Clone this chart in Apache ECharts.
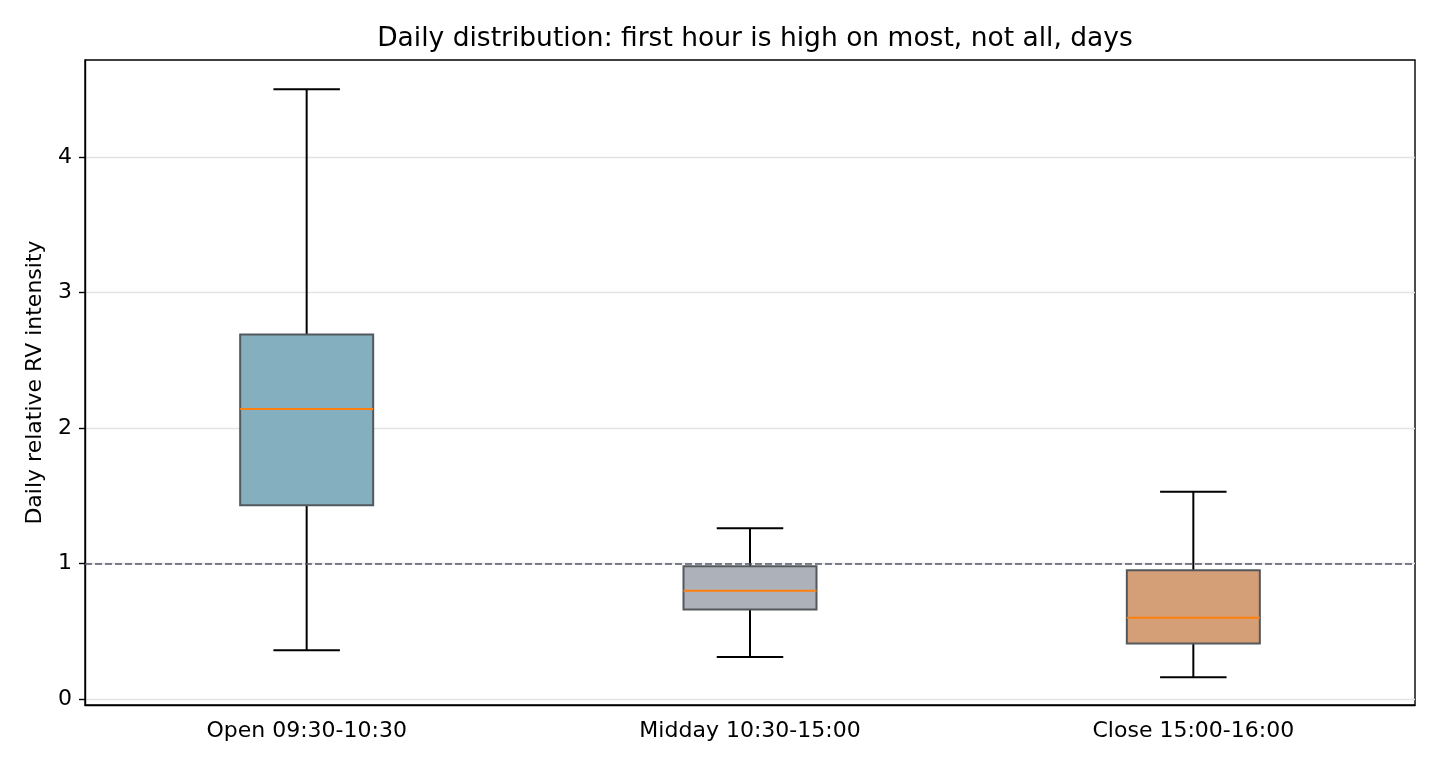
<!DOCTYPE html>
<html>
<head>
<meta charset="utf-8">
<script src="https://cdn.jsdelivr.net/npm/echarts@6/dist/echarts.min.js"></script>
<style>
  html, body { margin: 0; padding: 0; background: #fff; }
  #main { width: 1440px; height: 768px; }
</style>
</head>
<body>
<div id="main"></div>
<script>
// 区间标签
const categories = ['Open 09:30-10:30', 'Midday 10:30-15:00', 'Close 15:00-16:00'];
// 箱线图数值: [下须, Q1, 中位数, Q3, 上须]
const boxStats = [
  [0.36, 1.43, 2.14, 2.69, 4.50],
  [0.31, 0.66, 0.80, 0.98, 1.26],
  [0.16, 0.41, 0.60, 0.95, 1.53]
];
const boxColors = ['#84afbf', '#adb1b9', '#d49e76'];
const yTicks = [0, 1, 2, 3, 4];
const refLine = 1;

const chart = echarts.init(document.getElementById('main'));
const font = 'DejaVu Sans';

const option = {
  animation: false,
  title: {
    text: 'Daily distribution: first hour is high on most, not all, days',
    left: 750,
    textAlign: 'center',
    top: 21,
    textStyle: { fontFamily: font, fontSize: 26.5, fontWeight: 'normal', color: '#000' }
  },
  grid: {
    left: 85, right: 25, top: 60, bottom: 63,
    show: true, borderColor: '#000', borderWidth: 1.4, backgroundColor: 'transparent'
  },
  xAxis: {
    type: 'category',
    data: categories,
    boundaryGap: true,
    axisLine: { onZero: false, lineStyle: { color: '#000', width: 1.4 } },
    axisTick: { alignWithLabel: true, length: 6, lineStyle: { color: '#000', width: 1.4 } },
    axisLabel: { fontFamily: font, fontSize: 22, color: '#000', margin: 15 },
    splitLine: { show: false }
  },
  yAxis: {
    type: 'value',
    min: -0.044,
    max: 4.716,
    name: 'Daily relative RV intensity',
    nameLocation: 'middle',
    nameGap: 39,
    nameTextStyle: { fontFamily: font, fontSize: 22, color: '#000' },
    axisLine: { show: true, lineStyle: { color: '#000', width: 1.4 } },
    axisTick: { show: true, length: 6, customValues: yTicks, lineStyle: { color: '#000', width: 1.4 } },
    axisLabel: { fontFamily: font, fontSize: 22, color: '#000', margin: 13, customValues: yTicks,
      formatter: v => String(v) },
    splitLine: { show: true, lineStyle: { color: '#e3e3e3', width: 1.4 } }
  },
  series: [{
    type: 'custom',
    data: boxStats.map((d, i) => [i].concat(d)),
    renderItem: function (params, api) {
      const i = api.value(0);
      const lo = api.coord([i, api.value(1)]);
      const q1 = api.coord([i, api.value(2)]);
      const med = api.coord([i, api.value(3)]);
      const q3 = api.coord([i, api.value(4)]);
      const hi = api.coord([i, api.value(5)]);
      const band = api.size([1, 0])[0];
      const half = band * 0.15;
      const cap = band * 0.075;
      const x = lo[0];
      const black = { stroke: '#000', lineWidth: 2 };
      return {
        type: 'group',
        children: [
          { type: 'line', shape: { x1: x, y1: q1[1], x2: x, y2: lo[1] }, style: black },
          { type: 'line', shape: { x1: x, y1: q3[1], x2: x, y2: hi[1] }, style: black },
          { type: 'line', shape: { x1: x - cap, y1: lo[1], x2: x + cap, y2: lo[1] }, style: black },
          { type: 'line', shape: { x1: x - cap, y1: hi[1], x2: x + cap, y2: hi[1] }, style: black },
          { type: 'rect', shape: { x: x - half, y: q3[1], width: half * 2, height: q1[1] - q3[1] },
            style: { fill: boxColors[i], stroke: '#53585c', lineWidth: 2 } },
          { type: 'line', shape: { x1: x - half, y1: med[1], x2: x + half, y2: med[1] },
            style: { stroke: '#ff7f0e', lineWidth: 2 } }
        ]
      };
    },
    markLine: {
      silent: true,
      symbol: 'none',
      label: { show: false },
      lineStyle: { color: '#555a6a', type: [7, 3], width: 1.6 },
      data: [{ yAxis: refLine }]
    },
    z: 3
  }]
};

chart.setOption(option);
window.addEventListener('resize', function () {
  chart.resize();
});
</script>
</body>
</html>
